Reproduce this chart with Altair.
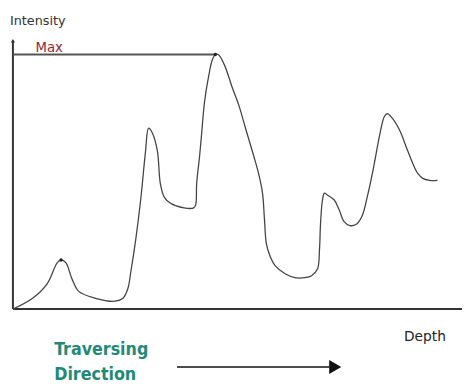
import altair as alt
import pandas as pd

# curve (depth, intensity)
depth = [0, 20, 35, 45, 49, 54, 60, 67, 84, 104, 112, 117, 120, 125, 130, 135, 138, 142, 147, 150, 154, 160,
         174, 184, 186, 187, 190, 192, 195, 199, 203, 206, 209, 215, 223, 230, 237, 245, 250, 254, 256, 258,
         262, 267, 277, 287, 297, 304, 310, 312, 313, 315, 317, 320, 327, 332, 337, 343, 349, 355, 361, 367,
         373, 378, 381, 387, 394, 401, 407, 412, 417, 424, 432]
intensity = [0, 11, 26, 47, 50, 47, 31, 18, 11, 8, 11, 21, 38, 71, 111, 161, 184, 179, 161, 128, 114, 108,
             103, 103, 106, 128, 156, 178, 211, 236, 254, 259, 259, 249, 226, 207, 183, 156, 138, 118, 91, 66,
             53, 44, 36, 32, 32, 34, 41, 61, 86, 111, 118, 116, 111, 101, 89, 85, 86, 94, 116, 144, 176, 196,
             199, 193, 181, 163, 148, 138, 133, 131, 131]

max_val = 259
max_end = 205
x_axis_end = 457
y_axis_end = 273

labels = ["Intensity", "Max", "Depth", "Traversing", "Direction"]
label_x = [-3, 23, 398, 42, 42]
label_y = [293, 266, -28, -42, -67]
label_color = ["#333333", "#9b2335", "#222222", "#1f8a78", "#1f8a78"]
label_size = [13, 13.5, 14, 18, 18]
label_weight = ["normal", "normal", "normal", "bold", "bold"]
label_font = ["DejaVu Sans", "DejaVu Sans", "DejaVu Sans", "DejaVu Sans Condensed", "DejaVu Sans Condensed"]

arrow_x = [167, 322]
arrow_y = -59

X = alt.Scale(domain=[-5, 457], nice=False, zero=False)
Y = alt.Scale(domain=[-81, 303], nice=False, zero=False)


def xe(f):
    return alt.X(f, type="quantitative", scale=X, axis=None)


def ye(f):
    return alt.Y(f, type="quantitative", scale=Y, axis=None)


curve = pd.DataFrame({"d": depth, "i": intensity})
line = alt.Chart(curve).mark_line(interpolate="catmull-rom", color="#444444", strokeWidth=1.3).encode(
    x=xe("d"), y=ye("i"))

layers = []
for (x1, x2, y1, y2, c) in [(0, x_axis_end, 0, 0, "#333333"), (0, 0, 0, y_axis_end, "#333333"),
                            (0, max_end, max_val, max_val, "#555555")]:
    df = pd.DataFrame({"x": [x1], "x2": [x2], "y": [y1], "y2": [y2]})
    layers.append(alt.Chart(df).mark_rule(strokeWidth=2, color=c).encode(
        x=xe("x"), x2="x2:Q", y=ye("y"), y2="y2:Q"))

arrowhead = alt.Chart(pd.DataFrame({"x": [0], "y": [y_axis_end]})).mark_point(
    shape="triangle-up", filled=True, color="#333333", size=18, opacity=1).encode(x=xe("x"), y=ye("y"))

peak_dot = alt.Chart(pd.DataFrame({"x": [206, 49], "y": [259, 50]})).mark_point(
    filled=True, color="#222222", size=12, opacity=1).encode(x=xe("x"), y=ye("y"))

tarrow = alt.Chart(pd.DataFrame({"x": [arrow_x[0]], "x2": [arrow_x[1]], "y": [arrow_y]})).mark_rule(
    color="#111111", strokeWidth=1.6).encode(x=xe("x"), x2="x2:Q", y=ye("y"))
thead = alt.Chart(pd.DataFrame({"x": [arrow_x[1] + 6], "y": [arrow_y]})).mark_point(
    shape="triangle-right", filled=True, color="#111111", size=200, opacity=1).encode(x=xe("x"), y=ye("y"))

texts = []
for i in range(len(labels)):
    df = pd.DataFrame({"t": [labels[i]], "x": [label_x[i]], "y": [label_y[i]]})
    texts.append(alt.Chart(df).mark_text(
        align="left", baseline="middle", font=label_font[i],
        fontSize=label_size[i], fontWeight=label_weight[i], color=label_color[i]).encode(
        x=xe("x"), y=ye("y"), text="t:N"))

chart = alt.layer(*layers, line, arrowhead, peak_dot, tarrow, thead, *texts).properties(
    width=462, height=384, autosize="none", padding=0, background="white"
).configure_view(stroke=None)

chart.save("out.html", embed_options={"renderer": "svg", "actions": False})
